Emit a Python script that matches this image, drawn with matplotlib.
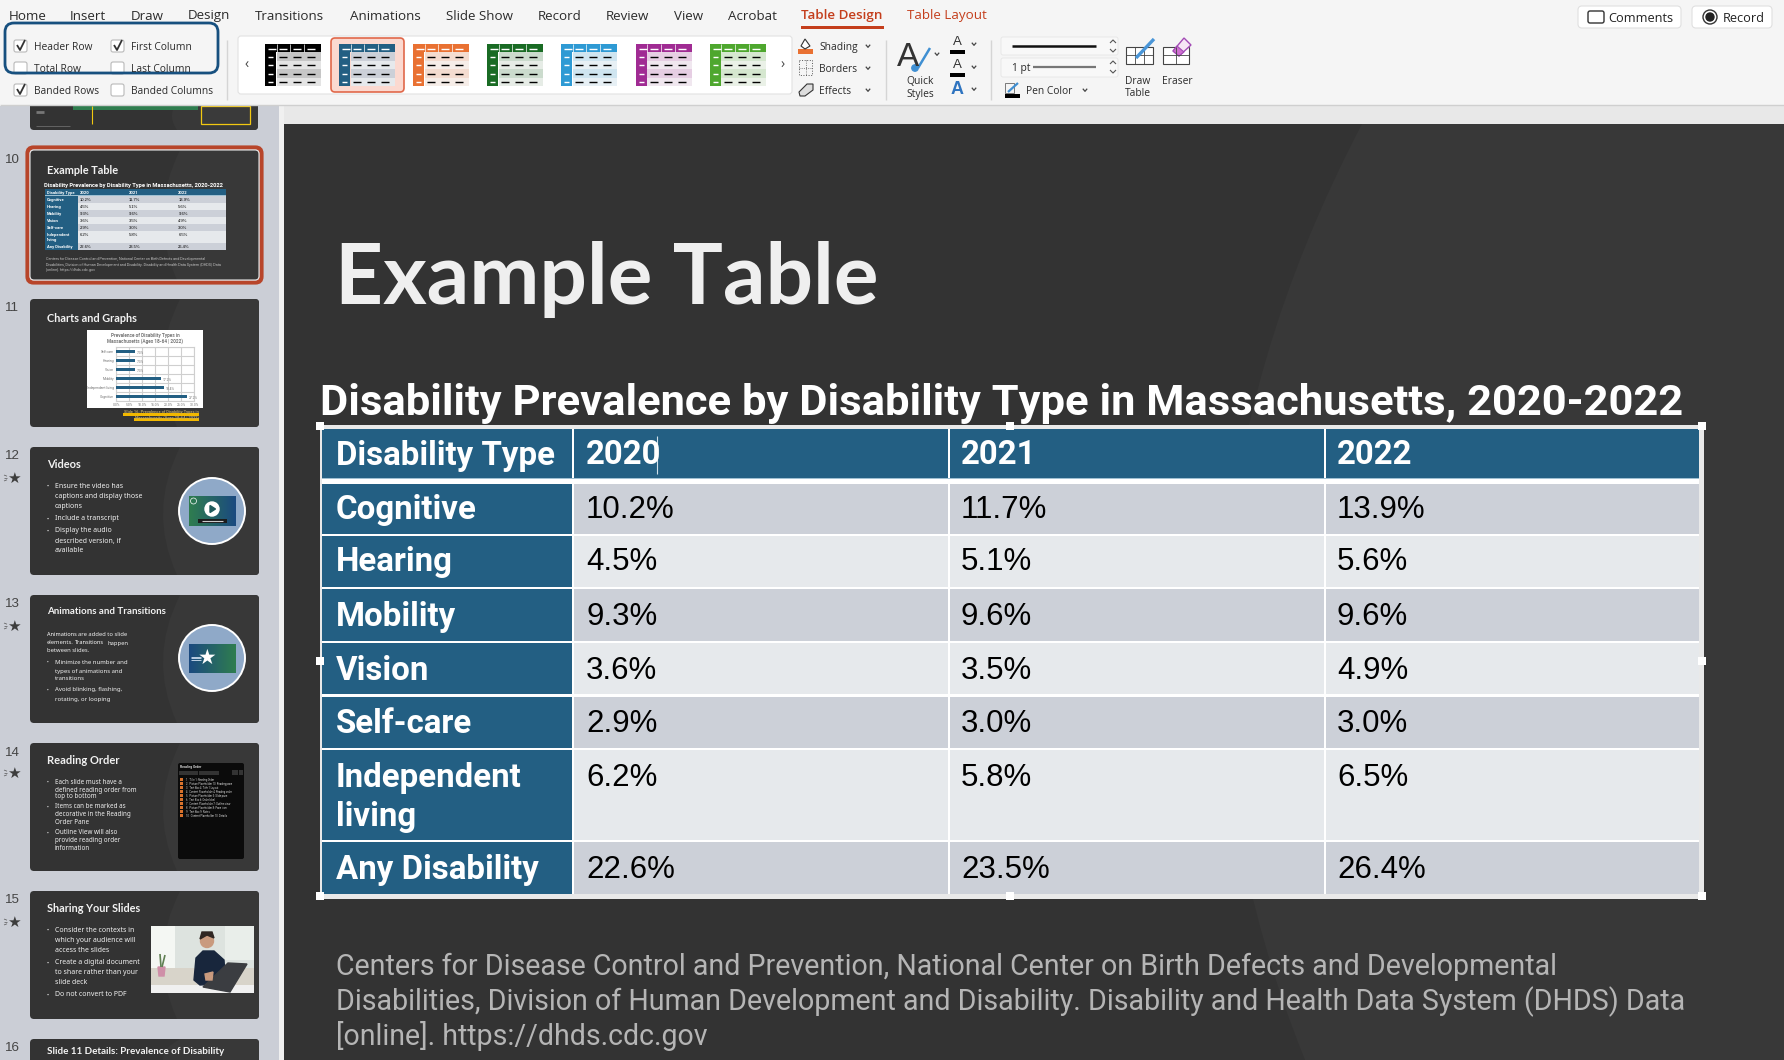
import numpy as np
import matplotlib
matplotlib.use("Agg")
import matplotlib.pyplot as plt
from matplotlib.patches import Rectangle, FancyBboxPatch, Circle, Polygon, PathPatch
from matplotlib.path import Path

# table data
table_title = "Disability Prevalence by Disability Type in Massachusetts, 2020-2022"
header = ["Disability Type", "2020", "2021", "2022"]
row_names = ["Cognitive", "Hearing", "Mobility", "Vision", "Self-care", "Independent\nliving", "Any Disability"]
vals_2020 = ["10.2%", "4.5%", "9.3%", "3.6%", "2.9%", "6.2%", "22.6%"]
vals_2021 = ["11.7%", "5.1%", "9.6%", "3.5%", "3.0%", "5.8%", "23.5%"]
vals_2022 = ["13.9%", "5.6%", "9.6%", "4.9%", "3.0%", "6.5%", "26.4%"]
footer_lines = ["Centers for Disease Control and Prevention, National Center on Birth Defects and Developmental",
                "Disabilities, Division of Human Development and Disability. Disability and Health Data System (DHDS) Data",
                "[online]. https://dhds.cdc.gov"]

# ribbon text
tabs = ["Home", "Insert", "Draw", "Design", "Transitions", "Animations", "Slide Show", "Record", "Review", "View", "Acrobat"]
checks_left = ["Header Row", "Total Row", "Banded Rows"]
checks_left_on = [True, False, True]
checks_right = ["First Column", "Last Column", "Banded Columns"]
checks_right_on = [True, False, False]
style_colors = ["#000000", "#235f83", "#e97132", "#196b24", "#2e9ad4", "#a02b93", "#4ea72e"]
effects = ["Shading", "Borders", "Effects"]

# thumbnail text
slide_nums = ["10", "11", "12", "13", "14", "15", "16"]
videos_lines = ["Ensure the video has", "captions and display those", "captions", "Include a transcript",
                "Display the audio", "described version, if", "available"]
anim_lines = ["Minimize the number and", "types of animations and", "transitions", "Avoid blinking, flashing,", "rotating, or looping"]
order_lines = ["Each slide must have a", "defined reading order from", "top to bottom", "Items can be marked as",
               "decorative in the Reading", "Order Pane", "Outline View will also", "provide reading order", "information"]
share_lines = ["Consider the contexts in", "which your audience will", "access the slides", "Create a digital document",
               "to share rather than your", "slide deck", "Do not convert to PDF"]
order_rows = ["Title 1: Reading Order", "Picture Placeholder 10: Reading pane", "Text Box 4: Title 1 Layout",
              "Content Placeholder 4: Reading order", "Picture Placeholder 5: Slide pane", "Text Box 6: Order label",
              "Content Placeholder 7: Outline view", "Picture Placeholder 8: Pane icon", "Text Box 9: Notes", "Content Placeholder 10: Details"]

# mini bar chart on slide 11
chart_cats = ["Self-care", "Hearing", "Vision", "Mobility", "Independent living", "Cognitive"]
chart_vals = [7.3, 7.3, 7.3, 17.2, 18.4, 27.2]
chart_ticks = [0, 5, 10, 15, 20, 25, 30]

BLUE = "#235f83"
RED = "#c43e1c"
SANS = "Roboto"
UI = "Open Sans"

fig = plt.figure(figsize=(17.84, 10.6), dpi=100)
ax = fig.add_axes([0, 0, 1, 1])
ax.set_xlim(0, 1784)
ax.set_ylim(1060, 0)
ax.axis("off")
renderer = fig.canvas.get_renderer()


def rect(x0, y0, x1, y1, color, **kw):
    ax.add_patch(Rectangle((x0, y0), x1 - x0, y1 - y0, facecolor=color, edgecolor="none", **kw))


def rrect(x0, y0, x1, y1, r, fc="none", ec="none", lw=1, **kw):
    ax.add_patch(FancyBboxPatch((x0, y0), x1 - x0, y1 - y0, boxstyle="round,pad=0,rounding_size=%g" % r,
                                facecolor=fc, edgecolor=ec, linewidth=lw, **kw))


def txt(x, y, s, size, color="#222222", family=UI, weight="normal", ha="left", va="center", **kw):
    return ax.text(x, y, s, fontsize=size, color=color, family=family, weight=weight, ha=ha, va=va, **kw)


def fit(t, width):
    # scale the font so the text is as wide as in the picture
    t.set_fontsize(t.get_fontsize() * width / t.get_window_extent(renderer).width)


def line(xs, ys, color="#222222", lw=1, **kw):
    ax.plot(xs, ys, color=color, lw=lw, solid_capstyle="butt", **kw)


def chevron(x, y, s=2.2, color="#444444"):
    line([x - s, x, x + s], [y - s * 0.6, y + s * 0.6, y - s * 0.6], color, 0.9)


def slide_bg(x0, y0, x1, y1, x_top, x_mid, x_bot, r=4):
    # dark slide with the lighter curved shape on the right
    patch = FancyBboxPatch((x0, y0), x1 - x0, y1 - y0, boxstyle="round,pad=0,rounding_size=%g" % r,
                           facecolor="#333333", edgecolor="none")
    ax.add_patch(patch)
    ctrl = 2 * x_mid - (x_top + x_bot) / 2
    verts = [(x_top, y0), (ctrl, (y0 + y1) / 2), (x_bot, y1), (x1, y1), (x1, y0), (x_top, y0)]
    codes = [Path.MOVETO, Path.CURVE3, Path.CURVE3, Path.LINETO, Path.LINETO, Path.CLOSEPOLY]
    curve = PathPatch(Path(verts, codes), facecolor="#383838", edgecolor="none")
    ax.add_patch(curve)
    curve.set_clip_path(patch)


def draw_table(x0, y0, s, body_size, head_size):
    # x0,y0 is the top left of the table, s is the scale against the big one
    col_edges = [0, 250, 626, 1002, 1377]
    row_tops = [0, 55, 107, 160, 214, 268, 321, 413]
    row_bots = [49, 105, 158, 212, 265, 319, 411, 465]
    base = [35, 89, 141, 196, 250, 303, 357, 449]
    text_x = [14, 264, 639, 1015]
    X = lambda v: x0 + v * s
    Y = lambda v: y0 + v * s
    rect(X(0), Y(0), X(1377), Y(465), "white")
    gap = 2 * s
    for c in range(4):
        left = X(col_edges[c]) + (gap if c else 0)
        right = X(col_edges[c + 1])
        rect(left, Y(row_tops[0]), right, Y(row_bots[0]), BLUE)
        txt(X(text_x[c]), Y(base[0] + 0.5), header[c], head_size, "white", SANS, "bold", va="baseline")
    rect(X(0), Y(49), X(1377), Y(50), "#9fc0d2")
    columns = [vals_2020, vals_2021, vals_2022]
    for r in range(7):
        top, bot = Y(row_tops[r + 1]), Y(row_bots[r + 1])
        rect(X(0), top, X(250), bot, BLUE)
        names = row_names[r].split("\n")
        for k, name in enumerate(names):
            txt(X(14), Y(base[r + 1] + 0.8 + k * 39), name, head_size, "white", SANS, "bold", va="baseline")
        band = "#ccd0d8" if r % 2 == 0 else "#e6e9ec"
        for c in range(3):
            rect(X(col_edges[c + 1]) + gap, top, X(col_edges[c + 2]), bot, band)
            txt(X(text_x[c + 1]), Y(base[r + 1]), columns[c][r], body_size, "black", "Liberation Sans", va="baseline")


# ---- background regions
rect(0, 106, 279, 1060, "#cbced6")
rect(279, 106, 284, 1060, "#f0f0f0")

# slide 9, only its bottom is in view
slide_bg(30, 98, 258, 130, 180, 172, 177, r=4)
rect(73, 106, 198, 110, "#2f7d4f")
line([92, 92], [106, 124], "#f2c811", 0.8)
ax.add_patch(Rectangle((201, 106), 49, 18, facecolor="#3a3a3a", edgecolor="#f2c811", lw=0.9))
line([36, 44], [112, 112], "#777777", 2)
line([36, 70], [126, 126], "#777777", 0.5)

rect(0, 0, 1784, 105, "#f5f5f5")
line([0, 1784], [105, 105], "#cfcfcf", 1)
rect(284, 106, 1784, 124, "#e8e8e8")

# ---- main slide
slide_bg(284, 124, 1784, 1060, 1362, 1225, 1305, r=0)
fit(txt(335, 304, "Example Table", 62, "#efefef", "Lato", "bold", va="baseline"), 543)
fit(txt(320, 415, table_title, 27.5, "white", SANS, "bold", va="baseline"), 1361)
# selection frame behind the table
rect(319.5, 424.5, 1703.5, 898.5, "#e9e9e9")
draw_table(322, 429, 1.0, 22.5, 23.8)
# text caret
line([657, 657], [436, 474], "#cfe0ea", 0.8)
for hx in [320, 1010, 1702]:
    for hy in [426, 661, 896]:
        if hx == 1010 and hy == 661:
            continue
        rect(hx - 4, hy - 4, hx + 4, hy + 4, "white")
foot_y = [975, 1010, 1045]
foot_w = [1223, 1348, 371]
for s_, y_, w_ in zip(footer_lines, foot_y, foot_w):
    fit(txt(336, y_, s_, 18, "#b5b5b5", SANS, va="baseline"), w_)

# ---- ribbon tabs
tab_x = [9, 70, 131, 188, 255, 350, 446, 538, 606, 674, 728]
for x_, s_ in zip(tab_x, tabs):
    txt(x_, 16, s_, 9.6, "#2b2b2b", UI)
txt(801, 16, "Table Design", 9.6, RED, UI, "semibold")
txt(907, 16, "Table Layout", 9.6, RED, UI)
rect(801, 26, 884, 28.5, RED)

# check boxes
for x_box, labels, states in [(14, checks_left, checks_left_on), (111, checks_right, checks_right_on)]:
    for y_, s_, on in zip([46, 68, 90], labels, states):
        rrect(x_box, y_ - 6, x_box + 13, y_ + 6, 2, "white", "#b9b9b9", 0.8)
        if on:
            line([x_box + 3, x_box + 6, x_box + 11], [y_ - 1, y_ + 4, y_ - 6], "#333333", 1.3)
        txt(x_box + 20, y_ + 1.5, s_, 7.4, "#2b2b2b", UI)
rrect(5, 23, 218, 73, 9, "none", "#17507f", 2)
line([227, 227], [40, 100], "#d5d5d5", 1)

# table style gallery
rrect(238, 36, 792, 94, 3, "white", "#e2e2e2", 0.8)
txt(247, 65, "‹", 10, "#444444", UI, ha="center")
txt(783, 65, "›", 10, "#444444", UI, ha="center")
rrect(331, 38, 404, 92, 4, "#fbd9d0", "#e0684a", 1.2)
for i, col in enumerate(style_colors):
    x0 = 265 + i * 74.1
    rgb = np.array(matplotlib.colors.to_rgb(col))
    band1 = "#ccd0d8" if i == 1 else tuple(rgb * 0.2 + 0.8 * np.array([0.97, 0.97, 0.97]))
    band2 = "#e6e9ec" if i == 1 else tuple(rgb * 0.08 + 0.92 * np.array([0.97, 0.97, 0.97]))
    rect(x0, 44, x0 + 56, 52, col)
    rect(x0, 52, x0 + 11, 86, col)
    for k in range(4):
        ry = 52 + k * 8.5
        rect(x0 + 11.5, ry, x0 + 56, ry + 8.5, band1 if k % 2 == 0 else band2)
        line([x0 + 3, x0 + 8], [ry + 4.5, ry + 4.5], "white", 1.0)
        for cx in [14, 28, 42]:
            line([x0 + cx, x0 + cx + 8], [ry + 4.5, ry + 4.5], "black", 1.0)
    for cx in [3, 14, 28, 42]:
        line([x0 + cx, x0 + cx + 8], [48.5, 48.5], "white", 1.0)
    for cx in [11.5, 25, 39]:
        line([x0 + cx, x0 + cx], [44, 52], "white", 0.5)

# shading / borders / effects
for y_, s_ in zip([46, 68, 90], effects):
    txt(819, y_ + 1.5, s_, 7.4, "#2b2b2b", UI)
    chevron(868, y_)
rect(798, 49, 813, 54, "#e97132")
ax.add_patch(Polygon([(805, 39), (810, 46), (805, 49), (801, 46)], facecolor="white", edgecolor="#333333", lw=0.8))
ax.add_patch(Rectangle((799, 60), 13, 15, facecolor="none", edgecolor="#555555", lw=0.7, ls=":"))
line([805.5, 805.5], [60, 75], "#555555", 0.6, ls=":")
line([799, 812], [67.5, 67.5], "#555555", 0.6, ls=":")
ax.add_patch(Polygon([(799, 92), (807, 84), (813, 84), (813, 90), (805, 96), (800, 96)], facecolor="#dddddd", edgecolor="#333333", lw=0.8))
line([886, 886], [40, 100], "#d5d5d5", 1)

# quick styles
txt(908, 58, "A", 24, "#333333", "Liberation Sans", ha="center")
line([918, 930], [68, 48], "#3f8fd2", 1.8)
ax.add_patch(Circle((915, 68), 3.2, color="#3f8fd2"))
chevron(937, 54)
txt(920, 82, "Quick", 7.4, "#2b2b2b", UI, ha="center")
txt(920, 94, "Styles", 7.4, "#2b2b2b", UI, ha="center")
for y_, c_ in zip([44, 67], ["black", "black"]):
    txt(957, y_ - 2, "A", 9.5, "#333333", "Liberation Sans", ha="center")
    rect(950, y_ + 6, 965, y_ + 10, c_)
    chevron(974, y_)
txt(957, 89, "A", 13, "#2f74c0", "Liberation Sans", weight="bold", ha="center")
chevron(974, 89)
line([991, 991], [40, 100], "#d5d5d5", 1)

# pen boxes
rrect(1001, 37, 1118, 55, 2, "#f8f8f8", "#e6e6e6", 0.6)
rrect(1001, 58, 1118, 77, 2, "#f8f8f8", "#e6e6e6", 0.6)
line([1012, 1096], [46, 46], "#111111", 1.8)
txt(1012, 68, "1 pt", 7.4, "#2b2b2b", UI)
line([1033, 1096], [67, 67], "#777777", 1.6)
for y_ in [46, 67]:
    line([1110, 1113, 1116], [y_ - 3, y_ - 6, y_ - 3], "#555555", 0.8)
    line([1110, 1113, 1116], [y_ + 3, y_ + 6, y_ + 3], "#555555", 0.8)
rect(1005, 94, 1020, 98, "black")
line([1008, 1018], [92, 83], "#3f8fd2", 1.6)
ax.add_patch(Rectangle((1005, 83), 9, 10, facecolor="none", edgecolor="#666666", lw=0.6))
txt(1026, 91.5, "Pen Color", 7.4, "#2b2b2b", UI)
chevron(1085, 90)

# draw table / eraser
ax.add_patch(Rectangle((1126, 47), 27, 17, facecolor="white", edgecolor="#444444", lw=0.8))
line([1135, 1135], [47, 64], "#444444", 0.6)
line([1144, 1144], [47, 64], "#444444", 0.6)
line([1126, 1153], [55, 55], "#444444", 0.6)
line([1136, 1154], [58, 39], "#4a96d8", 2.4)
txt(1138, 82, "Draw", 7.4, "#2b2b2b", UI, ha="center")
txt(1138, 94, "Table", 7.4, "#2b2b2b", UI, ha="center")
ax.add_patch(Rectangle((1163, 47), 26, 17, facecolor="white", edgecolor="#444444", lw=0.8))
line([1176, 1176], [47, 64], "#444444", 0.6)
line([1163, 1189], [55, 55], "#444444", 0.6)
ax.add_patch(Polygon([(1173, 51), (1184, 38), (1191, 45), (1179, 56)], facecolor="#f6e6f5", edgecolor="#a24ab5", lw=1))
ax.add_patch(Polygon([(1173, 51), (1177, 46), (1184, 52), (1179, 56)], facecolor="#cf6fd0", edgecolor="#a24ab5", lw=0.8))
txt(1177, 82, "Eraser", 7.4, "#2b2b2b", UI, ha="center")

# comments / record buttons
rrect(1578, 6, 1681, 28, 4, "white", "#e0e0e0", 0.8)
rrect(1588, 11, 1604, 23, 2, "white", "#333333", 1)
txt(1608, 18.5, "Comments", 9.2, "#222222", UI)
rrect(1692, 6, 1772, 28, 4, "white", "#e0e0e0", 0.8)
ax.add_patch(Circle((1710, 17), 7, facecolor="white", edgecolor="#333333", lw=1))
ax.add_patch(Circle((1710, 17), 4, color="#222222"))
txt(1723, 18.5, "Record", 9.2, "#222222", UI)

# ---- slide panel
slide_tops = [150, 299, 447, 595, 743, 891, 1039]
slide_bots = [280, 427, 575, 723, 871, 1019, 1060]
num_y = [160, 308, 456, 604, 753, 900, 1048]
star_y = [None, None, 478, 626, 773, 922, None]
rrect(27.5, 147.5, 261.5, 282.5, 6, "none", "#b8452a", 3)
for k in range(7):
    bot = slide_bots[k] if k < 6 else 1075
    slide_bg(30, slide_tops[k], 259, bot, 180, 163, 177)
    txt(12, num_y[k], slide_nums[k], 9.6, "#444444", "Liberation Sans", ha="center")
    if star_y[k]:
        txt(14, star_y[k], "★", 11, "#3d3d3d", "DejaVu Sans", ha="center")
        for dy in [-3, 0, 3]:
            line([4, 7], [star_y[k] + dy, star_y[k] + dy * 0.6], "#555555", 0.5)
ax.add_patch(FancyBboxPatch((30, 150), 229, 130, boxstyle="round,pad=0,rounding_size=4", facecolor="none", edgecolor="#e6e6e6", lw=0.8))


def slide_title(y, s, width):
    fit(txt(47, y, s, 8, "#f2f2f2", "Lato", "bold"), width)


def body(lines, ys, size=5.0, color="#f0f0f0", bullets=()):
    for i, (s_, y_) in enumerate(zip(lines, ys)):
        txt(55, y_, s_, size, color, "Noto Sans")
        if i in bullets:
            txt(47.5, y_, "•", size - 1, color, "Noto Sans", ha="center")


# slide 10 thumbnail
slide_title(170, "Example Table", 72)
fit(txt(44, 186, table_title, 3.6, "white", SANS, "bold"), 180)
draw_table(45, 189, 0.1313, 3.0, 3.0)
for s_, y_ in zip(footer_lines, [259, 265, 270]):
    txt(46, y_, s_, 2.7, "#bdbdbd", SANS)

# slide 11 thumbnail
slide_title(318, "Charts and Graphs", 91)
rect(87, 330, 203, 408, "white")
txt(145, 335, "Prevalence of Disability Types in", 3.4, "#777777", SANS, "bold", ha="center")
txt(145, 341.5, "Massachusetts (Ages 18-64 | 2022)", 3.4, "#777777", SANS, "bold", ha="center")
rect(123, 412.5, 199, 415.5, "#f2b800")
rect(134, 418, 199, 421, "#f2b800")
txt(199, 412, "Slide 16: Prevalence of Disability Types in", 2.9, "#b9a46a", SANS, "bold", ha="right")
txt(199, 418, "Massachusetts (Ages 18-64 | 2022)", 2.9, "#b9a46a", SANS, "bold", ha="right")
chart = fig.add_axes([116 / 1784, 1 - 401 / 1060, 78 / 1784, 54 / 1060])
chart.barh(range(len(chart_vals)), chart_vals, height=0.42, color=BLUE, zorder=3)
chart.set_ylim(5.5, -0.5)
chart.set_xlim(0, 30)
chart.set_yticks(range(len(chart_cats)))
chart.set_yticklabels(chart_cats, fontsize=2.4, color="#777777", family=SANS)
chart.set_xticks(chart_ticks)
chart.set_xticklabels(["%.1f%%" % t for t in chart_ticks], fontsize=2.4, color="#777777", family=SANS)
chart.tick_params(length=0, pad=1.5)
chart.grid(True, color="#cfcfcf", lw=0.8, zorder=0)
chart.set_yticks(np.arange(-0.5, 6, 1), minor=True)
chart.grid(True, which="minor", axis="y", color="#cfcfcf", lw=0.8)
chart.grid(False, axis="y", which="major")
chart.tick_params(which="minor", length=0)
chart.patch.set_alpha(0)
for sp in chart.spines.values():
    sp.set_color("#cfcfcf")
    sp.set_linewidth(0.8)
for yy, v in enumerate(chart_vals):
    chart.text(v + 0.7, yy + 0.2, "%.1f%%" % v, fontsize=2.4, color="#777777", family=SANS, va="center")


def icon_circle(cy):
    ax.add_patch(Circle((212, cy), 33, facecolor="#8fa9c8", edgecolor="white", lw=1.4))


def gradient(x0, y0, x1, y1, left, right):
    c0 = np.array(matplotlib.colors.to_rgb(left))
    c1 = np.array(matplotlib.colors.to_rgb(right))
    t = np.linspace(0, 1, 64)[None, :, None]
    ax.imshow(c0 + (c1 - c0) * t, extent=(x0, x1, y1, y0), aspect="auto", zorder=2)


# slide 12 thumbnail
slide_title(464, "Videos", 34)
body(videos_lines, [486, 496, 506, 519, 531, 541, 551], bullets=(0, 3, 4))
icon_circle(511)
gradient(189, 496, 236, 526, "#2f7d4f", "#1b4a80")
ax.add_patch(Circle((212, 509), 7, color="white", zorder=3))
ax.add_patch(Polygon([(210, 505.5), (210, 512.5), (215.5, 509)], color="#1f5a5c", zorder=4))
rect(198, 519, 227, 523, "#1c1c1c", zorder=3)
line([202, 223], [521, 521], "#cccccc", 0.8, zorder=4)
ax.add_patch(Circle((193.5, 501), 3, facecolor="none", edgecolor="white", lw=0.5, zorder=4))

# slide 13 thumbnail
slide_title(611, "Animations and Transitions", 119)
txt(47, 634, "Animations", 4.0, "white", "Noto Sans", "bold")
txt(78, 634, "are added to slide", 4.2, "#f0f0f0", "Noto Sans")
txt(47, 643, "elements.", 4.2, "#f0f0f0", "Noto Sans")
txt(75, 643, "Transitions", 4.0, "white", "Noto Sans", "bold")
txt(107, 643, "happen", 4.2, "#f0f0f0", "Noto Sans")
txt(47, 651, "between slides.", 4.2, "#f0f0f0", "Noto Sans")
body(anim_lines, [662, 671, 679, 690, 699], size=4.3, bullets=(0, 3))
icon_circle(658)
gradient(189, 644, 236, 673, "#1b4a80", "#2f7d4f")
txt(207, 658, "★", 15, "white", "DejaVu Sans", ha="center", zorder=4)
for dy in [-1.5, 0, 1.5]:
    line([191, 201], [658 + dy, 658 + dy], "#bcd0e4", 0.7, zorder=3)

# slide 14 thumbnail
slide_title(760, "Reading Order", 73)
body(order_lines, [782, 790, 797, 807, 815, 823, 833, 841, 848], size=4.5, bullets=(0, 3, 6))
rrect(178, 763, 244, 859, 2, "#0b0b0b")
txt(180, 767, "Reading Order", 2.4, "#dddddd", SANS, "bold")
rect(179, 771, 198, 775, "#333333")
rect(198.5, 771, 219, 775, "#333333")
rect(232, 770, 238, 775, "#333333")
rect(239, 770, 243, 775, "#333333")
for i, s_ in enumerate(order_rows):
    ry = 779.5 + i * 4.05
    rect(180, ry - 1.5, 183, ry + 1.5, "#d9722c")
    txt(186, ry, "%d   %s" % (i + 1, s_), 1.9, "#d8d8d8", SANS)

# slide 15 thumbnail
slide_title(908, "Sharing Your Slides", 94)
body(share_lines, [930, 940, 950, 963, 973, 982, 995], bullets=(0, 3, 6))
rect(151, 926, 254, 993, "#dde3df")
rect(151, 926, 175, 968, "#f4f7f3")
rect(225, 926, 254, 960, "#e9eeea")
rect(151, 968, 254, 987, "#d8d4ca")
rect(151, 985, 254, 993, "#f0f0f0")
ax.add_patch(Polygon([(158, 967), (165, 967), (164, 976), (159, 976)], color="#cf8fa8"))
line([161, 160], [967, 954], "#5f7f52", 1.2)
line([162, 165], [967, 955], "#5f7f52", 1.2)
ax.add_patch(Polygon([(194, 980), (196, 958), (203, 951), (214, 951), (224, 960), (225, 975), (218, 984), (200, 985)], color="#18263c"))
ax.add_patch(Circle((207, 941), 6.5, color="#c99a7e"))
ax.add_patch(Polygon([(200, 939), (202, 932), (212, 932), (214, 938), (207, 935)], color="#2f2622"))
ax.add_patch(Polygon([(203, 987), (230, 992), (247, 964), (228, 963)], color="#3b3d41"))
ax.add_patch(Polygon([(205, 974), (213, 972), (212, 980), (206, 980)], color="#c99a7e"))

# slide 16 thumbnail
slide_title(1052, "Slide 11 Details: Prevalence of Disability", 179)

ax.set_xlim(0, 1784)
ax.set_ylim(1060, 0)
fig.savefig("out.png", dpi=100)
